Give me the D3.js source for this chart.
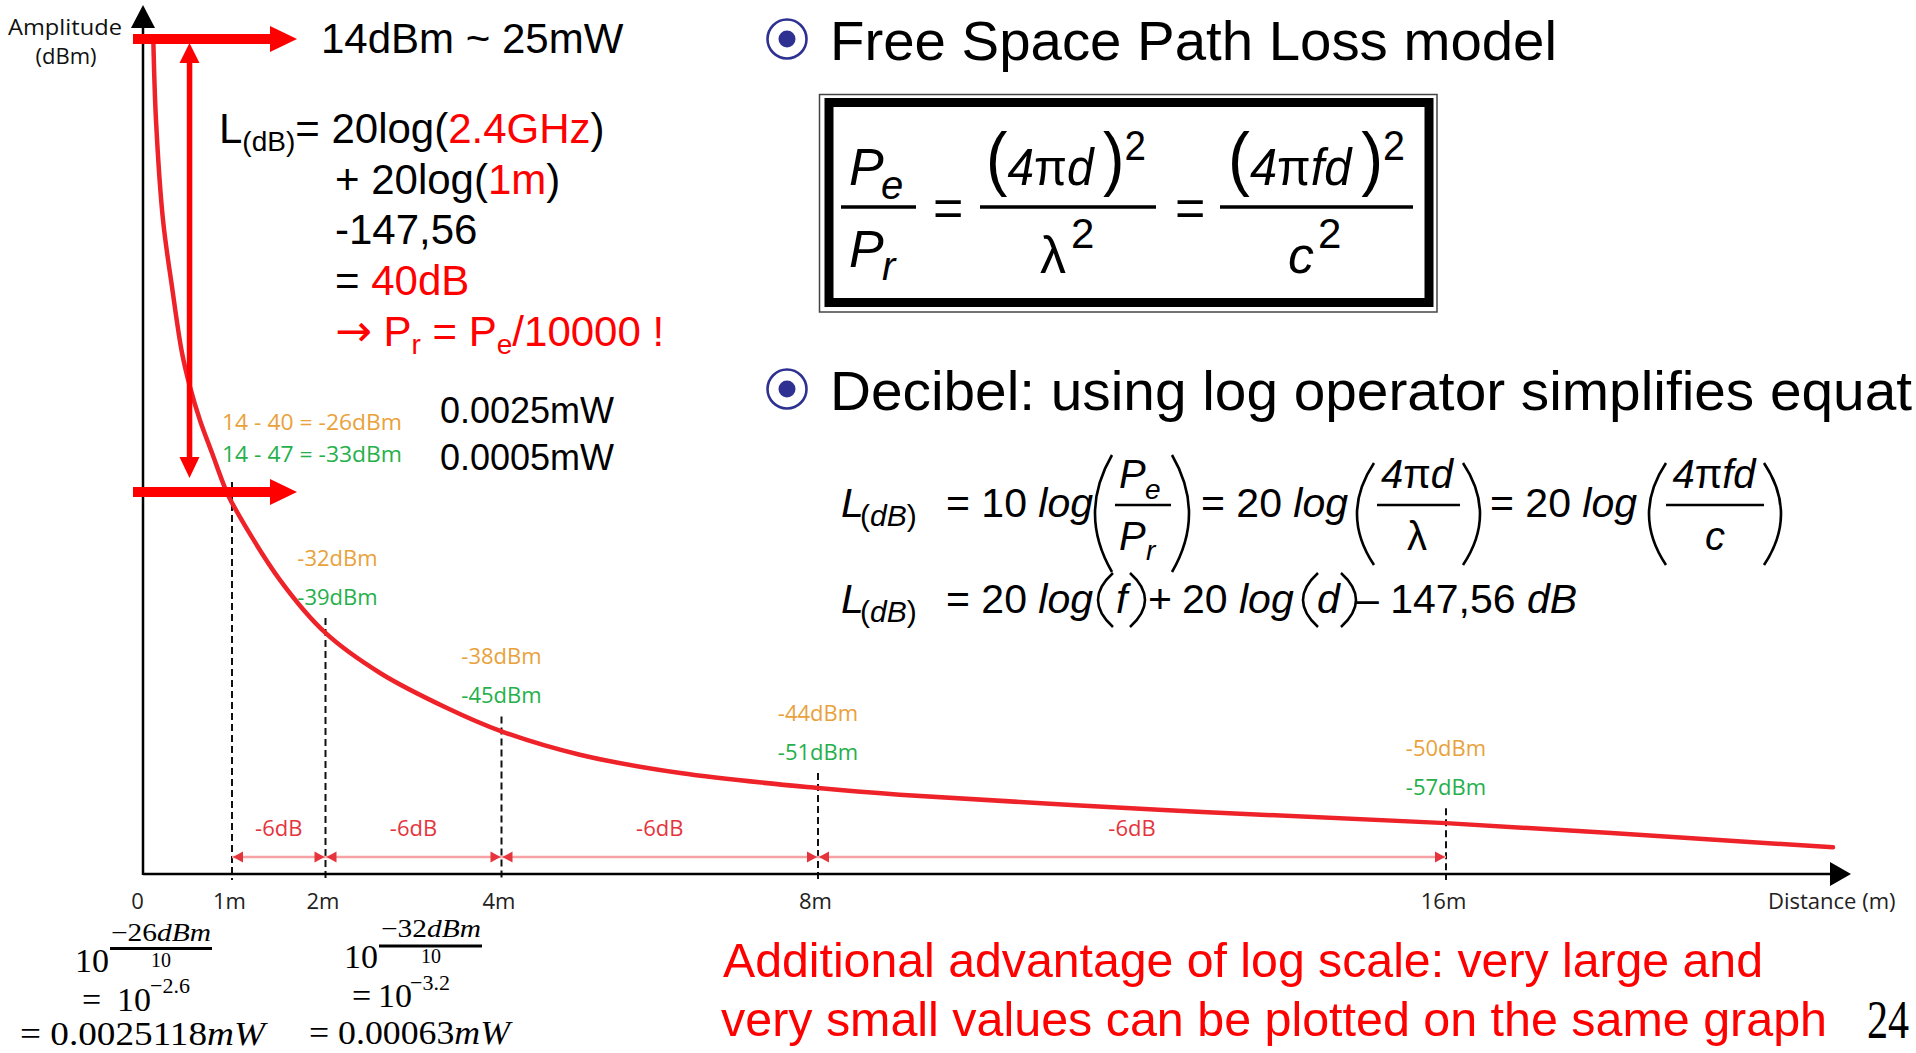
<!DOCTYPE html>
<html><head><meta charset="utf-8">
<script src="https://cdn.jsdelivr.net/npm/d3@7"></script>
<style>html,body{margin:0;padding:0;background:#fff;overflow:hidden}svg{display:block}</style>
</head><body>
<svg id="c" width="1916" height="1053"></svg>
<script>
// ---------------- data ----------------
const distanceTicks = [0, 1, 2, 4, 8, 16];
const tickLabels = ["0", "1m", "2m", "4m", "8m", "16m"];
const curveDistance  = [0.116, 0.146, 0.225, 0.326, 0.438, 0.528, 0.64, 0.775, 0.921, 1, 1.51, 2, 2.62, 3.38, 4, 4.99, 6.26, 8, 9.04, 12.34, 16, 20.93];
const curveAmplitude = [100, 90.4, 78.4, 70.4, 62.5, 58.4, 54.4, 50.5, 46.3, 44.5, 35.3, 28.9, 24.1, 19.9, 17.1, 14.3, 12.1, 10.3, 9.5, 7.7, 6.1, 3.2];
const markDistances = [2, 4, 8, 16];
const dBmLoss40 = ["-32dBm", "-38dBm", "-44dBm", "-50dBm"];
const dBmLoss47 = ["-39dBm", "-45dBm", "-51dBm", "-57dBm"];
const stepFrom = [1, 2, 4, 8];
const stepTo = [2, 4, 8, 16];
const stepLabels = ["-6dB", "-6dB", "-6dB", "-6dB"];

// ---------------- setup ----------------
const F = "'Liberation Sans', Arial, sans-serif";
const FS = "'Liberation Serif', 'Times New Roman', serif";
const FO = "'Open Sans', sans-serif";
const ORANGE = "#E9A23B", GREEN = "#25B04B", LRED = "#E5343C", RED = "#FF0000";
const svg = d3.select("#c");
svg.append("rect").attr("width", 1916).attr("height", 1053).attr("fill", "#fff");

const x = d3.scaleLinear().domain(distanceTicks).range([143, 232, 325.5, 501.5, 818, 1446]);
const y = d3.scaleLinear().domain([0, 100]).range([874, 40]);
const axisY = y(0), axisX = x(0);
const ampAt = d => curveAmplitude[curveDistance.indexOf(d)];

function T(px, py, base, parts) {
  const t = svg.append("text").attr("x", px).attr("y", py);
  for (const k in base) t.attr(k, base[k]);
  if (typeof parts === "string") { t.text(parts); return t; }
  parts.forEach(p => {
    const s = t.append("tspan").text(p.t);
    for (const k in p) if (k !== "t") s.attr(k, p[k]);
  });
  return t;
}
function hline(x1, x2, yy, sw, col) {
  svg.append("line").attr("x1", x1).attr("x2", x2).attr("y1", yy).attr("y2", yy)
    .attr("stroke", col || "#000").attr("stroke-width", sw);
}
function paren(x0, x1, top, bot, open, sw) {
  const mid = (top + bot) / 2;
  const d = open
    ? `M${x1},${top} Q${2 * x0 - x1 + 2},${mid} ${x1},${bot}`
    : `M${x0},${top} Q${2 * x1 - x0 - 2},${mid} ${x0},${bot}`;
  svg.append("path").attr("d", d).attr("fill", "none").attr("stroke", "#000").attr("stroke-width", sw || 2.6);
}

// ---------------- chart ----------------
const g = svg.append("g");

// dashed distance markers
g.append("line").attr("x1", x(1)).attr("x2", x(1)).attr("y1", 482).attr("y2", axisY + 6)
  .attr("stroke", "#111").attr("stroke-width", 2).attr("stroke-dasharray", "7,4");
g.selectAll(".mk").data(markDistances).join("line")
  .attr("x1", d => x(d)).attr("x2", d => x(d))
  .attr("y1", d => y(ampAt(d)) - 15).attr("y2", axisY + 6)
  .attr("stroke", "#111").attr("stroke-width", 2).attr("stroke-dasharray", "7,4");

// axes
const ax = g.append("g").attr("transform", `translate(0,${axisY})`)
  .call(d3.axisBottom(x).tickValues(distanceTicks).tickFormat((d, i) => tickLabels[i]).tickSize(0).tickPadding(19));
ax.select(".domain").remove();
ax.selectAll("text").attr("font-family", FO).attr("font-size", 22).attr("fill", "#222")
  .attr("dx", d => d === 0 ? -6 : -3);
g.append("line").attr("x1", axisX).attr("x2", 1832).attr("y1", axisY).attr("y2", axisY)
  .attr("stroke", "#000").attr("stroke-width", 2.5);
g.append("path").attr("d", `M1830,${axisY - 12}L1851,${axisY}L1830,${axisY + 12}Z`).attr("fill", "#000");
g.append("line").attr("x1", axisX).attr("x2", axisX).attr("y1", axisY + 1).attr("y2", 26)
  .attr("stroke", "#000").attr("stroke-width", 2.5);
g.append("path").attr("d", `M${axisX - 12},28L${axisX},5L${axisX + 12},28Z`).attr("fill", "#000");

T(1768, 909, { "font-family": FO, "font-size": 22, fill: "#222" }, "Distance (m)");
T(8, 35, { "font-family": FO, "font-size": 22, fill: "#111", textLength: 114, lengthAdjust: "spacingAndGlyphs" }, "Amplitude");
T(66, 64, { "font-family": FO, "font-size": 22, fill: "#111", "text-anchor": "middle" }, "(dBm)");

// -6dB step dimension lines
const steps = d3.range(stepFrom.length).map(i => ({ a: stepFrom[i], b: stepTo[i], l: stepLabels[i] }));
const dimY = 857;
g.selectAll(".dl").data(steps).join("line")
  .attr("x1", d => x(d.a)).attr("x2", d => x(d.b)).attr("y1", dimY).attr("y2", dimY)
  .attr("stroke", "#F6A2A5").attr("stroke-width", 2.5);
g.selectAll(".dal").data(steps).join("path")
  .attr("d", d => `M${x(d.a) + 1},${dimY}L${x(d.a) + 11},${dimY - 5.5}L${x(d.a) + 11},${dimY + 5.5}Z`).attr("fill", LRED);
g.selectAll(".dar").data(steps).join("path")
  .attr("d", d => `M${x(d.b) - 1},${dimY}L${x(d.b) - 11},${dimY - 5.5}L${x(d.b) - 11},${dimY + 5.5}Z`).attr("fill", LRED);
g.selectAll(".dt").data(steps).join("text")
  .attr("x", d => (x(d.a) + x(d.b)) / 2).attr("y", 836).attr("text-anchor", "middle")
  .attr("font-family", FO).attr("font-size", 22).attr("fill", LRED).text(d => d.l);

// curve
const pts = d3.zip(curveDistance, curveAmplitude);
g.append("path").datum(pts)
  .attr("d", d3.line().x(d => x(d[0])).y(d => y(d[1])).curve(d3.curveCatmullRom.alpha(0.5)))
  .attr("fill", "none").attr("stroke", "#EE2229").attr("stroke-width", 4.5).attr("stroke-linecap", "round");

// received power labels
g.selectAll(".o").data(markDistances).join("text")
  .attr("x", (d, i) => x(d) + (i === 0 ? 12 : 0)).attr("y", d => y(ampAt(d)) - 67)
  .attr("text-anchor", "middle").attr("font-family", FO).attr("font-size", 22).attr("fill", ORANGE)
  .text((d, i) => dBmLoss40[i]);
g.selectAll(".gr").data(markDistances).join("text")
  .attr("x", (d, i) => x(d) + (i === 0 ? 12 : 0)).attr("y", d => y(ampAt(d)) - 28)
  .attr("text-anchor", "middle").attr("font-family", FO).attr("font-size", 22).attr("fill", GREEN)
  .text((d, i) => dBmLoss47[i]);
T(x(1) - 10, 430, { "font-family": FO, "font-size": 22, fill: ORANGE, textLength: 180, lengthAdjust: "spacingAndGlyphs" }, "14 - 40 = -26dBm");
T(x(1) - 10, 462, { "font-family": FO, "font-size": 22, fill: GREEN, textLength: 180, lengthAdjust: "spacingAndGlyphs" }, "14 - 47 = -33dBm");

// red arrows
svg.append("rect").attr("x", 133).attr("y", 34).attr("width", 138).attr("height", 10).attr("fill", RED);
svg.append("path").attr("d", "M270,26L297,39L270,52Z").attr("fill", RED);
svg.append("rect").attr("x", 133).attr("y", 487).attr("width", 138).attr("height", 10).attr("fill", RED);
svg.append("path").attr("d", "M270,479L297,492L270,505Z").attr("fill", RED);
svg.append("rect").attr("x", 186.8).attr("y", 60).attr("width", 5.5).attr("height", 400).attr("fill", RED);
svg.append("path").attr("d", "M179.5,63L189.5,43L199.5,63Z").attr("fill", RED);
svg.append("path").attr("d", "M179.5,457L189.5,478L199.5,457Z").attr("fill", RED);

// ---------------- left text block ----------------
const base42 = { "font-family": F, "font-size": 42, fill: "#000" };
T(321, 53, base42, "14dBm ~ 25mW");
T(219, 143, base42, [{ t: "L" }, { t: "(dB)", "font-size": 28, dy: 8 }, { t: "= 20log(", dy: -8 }, { t: "2.4GHz", fill: RED }, { t: ")" }]);
T(335, 194, base42, [{ t: "+ 20log(" }, { t: "1m", fill: RED }, { t: ")" }]);
T(335, 244, base42, "-147,56");
T(335, 295, base42, [{ t: "= " }, { t: "40dB", fill: RED }]);
T(335, 346, Object.assign({}, base42, { fill: RED }), [
  { t: "→", "font-family": "'DejaVu Sans', sans-serif", "font-size": 44 }, { t: " P" },
  { t: "r", "font-size": 28, dy: 8 }, { t: " = P", dy: -8 }, { t: "e", "font-size": 28, dy: 8 }, { t: "/10000 !", dy: -8 }]);
T(440, 423, { "font-family": F, "font-size": 36, fill: "#000" }, "0.0025mW");
T(440, 470, { "font-family": F, "font-size": 36, fill: "#000" }, "0.0005mW");

// ---------------- bottom-left conversions ----------------
const m34 = { "font-family": FS, "font-size": 34, fill: "#000" };
const m22 = { "font-family": FS, "font-size": 20, fill: "#000" };
T(75, 972, m34, "10");
T(161, 941, Object.assign({}, m22, { "font-size": 25, "text-anchor": "middle", textLength: 100, lengthAdjust: "spacingAndGlyphs" }), [{ t: "−26" }, { t: "dBm", "font-style": "italic" }]);
hline(110, 212, 948.5, 2.8);
T(161, 967, Object.assign({}, m22, { "text-anchor": "middle" }), "10");
T(82, 1011, m34, "=");
T(117, 1011, m34, "10");
T(150, 993, Object.assign({}, m22, { "font-size": 22 }), "−2.6");
T(20, 1045, Object.assign({}, m34, { textLength: 245, lengthAdjust: "spacingAndGlyphs" }), [{ t: "= 0.0025118" }, { t: "mW", "font-style": "italic" }]);

T(344, 968, m34, "10");
T(431, 937, Object.assign({}, m22, { "font-size": 25, "text-anchor": "middle", textLength: 100, lengthAdjust: "spacingAndGlyphs" }), [{ t: "−32" }, { t: "dBm", "font-style": "italic" }]);
hline(379, 482, 946, 2.8);
T(431, 963, Object.assign({}, m22, { "text-anchor": "middle" }), "10");
T(352, 1007, m34, "=");
T(378, 1007, m34, "10");
T(410, 990, Object.assign({}, m22, { "font-size": 22 }), "−3.2");
T(309, 1044, Object.assign({}, m34, { textLength: 201, lengthAdjust: "spacingAndGlyphs" }), [{ t: "= 0.00063" }, { t: "mW", "font-style": "italic" }]);

// ---------------- right: bullets & titles ----------------
function bullet(cx, cy) {
  svg.append("circle").attr("cx", cx).attr("cy", cy).attr("r", 19.5).attr("fill", "none").attr("stroke", "#2E3192").attr("stroke-width", 2.6);
  svg.append("circle").attr("cx", cx).attr("cy", cy).attr("r", 8.5).attr("fill", "#2E3192");
}
bullet(787, 39);
T(830, 60, { "font-family": F, "font-size": 56, fill: "#000", textLength: 727, lengthAdjust: "spacingAndGlyphs" }, "Free Space Path Loss model");
bullet(787, 389);
T(830, 410, { "font-family": F, "font-size": 56, fill: "#000", textLength: 1082, lengthAdjust: "spacingAndGlyphs" }, "Decibel: using log operator simplifies equat");

// boxed formula
svg.append("rect").attr("x", 819.5).attr("y", 94.5).attr("width", 617.5).attr("height", 217.5).attr("fill", "none").attr("stroke", "#444").attr("stroke-width", 1.5);
svg.append("rect").attr("x", 829).attr("y", 102.5).attr("width", 600).attr("height", 200).attr("fill", "none").attr("stroke", "#000").attr("stroke-width", 9);
const bi = { "font-family": F, "font-size": 52, "font-style": "italic", fill: "#000" };
const bn = { "font-family": F, "font-size": 52, fill: "#000" };
const bs = { "font-family": F, "font-size": 42, fill: "#000" };
T(849, 185, bi, "P"); T(881, 199, Object.assign({}, bi, { "font-size": 40 }), "e");
hline(841, 916, 207, 3.5);
T(849, 267, bi, "P"); T(882, 280, Object.assign({}, bi, { "font-size": 40 }), "r");
T(933, 226, bn, "=");
T(986, 185, Object.assign({}, bn, { textLength: 160, lengthAdjust: "spacingAndGlyphs" }), [
  { t: "(", "font-size": 70, dy: -3 }, { t: "4", "font-style": "italic", dy: 3 }, { t: "π" }, { t: "d", "font-style": "italic" },
  { t: "\u2009" }, { t: ")", "font-size": 70, dy: -3 }, { t: "2", "font-size": 42, dy: -22 }]);
hline(980, 1156, 207, 3.5);
T(1040, 273, bn, "λ"); T(1071, 248, bs, "2");
T(1175, 226, bn, "=");
T(1228, 185, Object.assign({}, bn, { textLength: 177, lengthAdjust: "spacingAndGlyphs" }), [
  { t: "(", "font-size": 70, dy: -3 }, { t: "4", "font-style": "italic", dy: 3 }, { t: "π" }, { t: "fd", "font-style": "italic" },
  { t: "\u2009" }, { t: ")", "font-size": 70, dy: -3 }, { t: "2", "font-size": 42, dy: -22 }]);
hline(1220, 1413, 207, 3.5);
T(1288, 273, bi, "c"); T(1318, 248, bs, "2");

// decibel formulas
const fi = { "font-family": F, "font-size": 41, "font-style": "italic", fill: "#000" };
const fn = { "font-family": F, "font-size": 41, fill: "#000" };
const fc = Object.assign({}, fi, { "text-anchor": "middle", "font-size": 40 });
function Lsub(yb) {
  T(841, yb, fi, "L");
  T(860, yb + 9, { "font-family": F, "font-size": 30, fill: "#000" }, [{ t: "(" }, { t: "dB", "font-style": "italic" }, { t: ")" }]);
}
Lsub(517);
T(946, 517, fn, [{ t: "= 10 " }, { t: "log", "font-style": "italic" }]);
paren(1094, 1112, 455, 572, true); paren(1172, 1190, 455, 572, false);
T(1119, 488, Object.assign({}, fi, { "font-size": 40 }), "P"); T(1145, 499, Object.assign({}, fi, { "font-size": 28 }), "e");
hline(1115, 1171, 505, 2.6);
T(1119, 550, Object.assign({}, fi, { "font-size": 40 }), "P"); T(1146, 560, Object.assign({}, fi, { "font-size": 28 }), "r");
T(1201, 517, fn, [{ t: "= 20 " }, { t: "log", "font-style": "italic" }]);
paren(1356, 1374, 463, 565, true); paren(1463, 1481, 463, 565, false);
T(1417, 488, fc, [{ t: "4" }, { t: "π", "font-style": "normal" }, { t: "d" }]);
hline(1377, 1460, 505, 2.6);
T(1417, 550, Object.assign({}, fc, { "font-style": "normal" }), "λ");
T(1490, 517, fn, [{ t: "= 20 " }, { t: "log", "font-style": "italic" }]);
paren(1648, 1666, 463, 565, true); paren(1764, 1782, 463, 565, false);
T(1714, 488, fc, [{ t: "4" }, { t: "π", "font-style": "normal" }, { t: "fd" }]);
hline(1666, 1764, 505, 2.6);
T(1715, 550, fc, "c");

Lsub(613);
T(946, 613, fn, [{ t: "= 20 " }, { t: "log", "font-style": "italic" }]);
paren(1097, 1113, 573, 627, true); T(1116, 613, fi, "f"); paren(1130, 1146, 573, 627, false);
T(1148, 613, fn, "+");
T(1182, 613, fn, [{ t: "20 " }, { t: "log", "font-style": "italic" }]);
paren(1302, 1318, 573, 627, true); T(1317, 613, fi, "d"); paren(1341, 1357, 573, 627, false);
T(1356, 613, fn, [{ t: "– 147,56 " }, { t: "dB", "font-style": "italic" }]);

// ---------------- bottom note ----------------
const red48 = { "font-family": F, "font-size": 48, fill: RED, lengthAdjust: "spacingAndGlyphs" };
T(723, 977, Object.assign({}, red48, { textLength: 1040 }), "Additional advantage of log scale: very large and");
T(721, 1036, Object.assign({}, red48, { textLength: 1106 }), "very small values can be plotted on the same graph");
svg.append("text").attr("transform", "translate(1867,1038) scale(0.78,1)")
  .attr("font-family", FS).attr("font-size", 54).attr("fill", "#000").text("24");
</script>
</body></html>
